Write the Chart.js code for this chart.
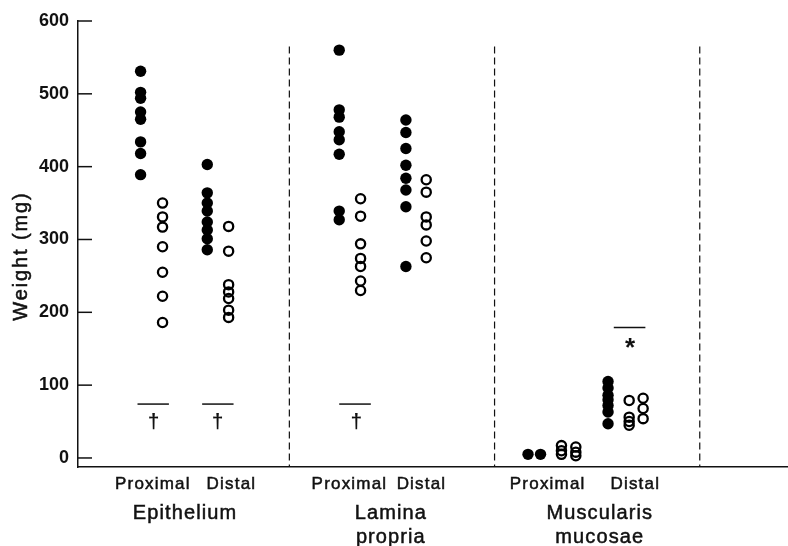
<!DOCTYPE html>
<html>
<head>
<meta charset="utf-8">
<script src="https://cdn.jsdelivr.net/npm/chart.js@4"></script>
<style>
  html, body { margin: 0; padding: 0; background: #fff; }
  #wrap { width: 788px; height: 546px; }
</style>
</head>
<body>
<div id="wrap"><canvas id="chart" width="788" height="546"></canvas></div>
<script>
// Weight (mg). Filled = one group, open = the other.
const epiProxFilled = [531, 502, 494, 475, 465, 434, 418, 389];
const epiProxOpen = [350, 331, 317, 290, 255, 222, 186];
const epiDistFilled = [403, 364, 350, 339, 324, 313, 301, 286];
const epiDistOpen = [318, 284, 238, 228, 219, 203, 193];
const lamProxFilled = [560, 478, 468, 448, 437, 417, 339, 327];
const lamProxOpen = [356, 332, 294, 274, 263, 243, 230];
const lamDistFilled = [464, 447, 425, 402, 384, 368, 345, 263];
const lamDistOpen = [382, 365, 331, 320, 298, 275];
const musProxFilledA = [5];
const musProxFilledB = [5];
const musProxOpenA = [17, 10, 5];
const musProxOpenB = [15, 8, 3];
const musDistFilled = [105, 96, 86, 80, 72, 63, 47];
const musDistOpenA = [79, 56, 50, 45];
const musDistOpenB = [82, 68, 54];

// column positions on the x scale (one unit = one tissue panel)
const filledX = [0.275, 0.600, 1.243, 1.568, 2.163, 2.224, 2.553];
const filledCols = [epiProxFilled, epiDistFilled, lamProxFilled, lamDistFilled,
                    musProxFilledA, musProxFilledB, musDistFilled];
const openX = [0.382, 0.704, 1.347, 1.667, 2.326, 2.396, 2.656, 2.724];
const openCols = [epiProxOpen, epiDistOpen, lamProxOpen, lamDistOpen,
                  musProxOpenA, musProxOpenB, musDistOpenA, musDistOpenB];

const yTicks = [0, 100, 200, 300, 400, 500, 600];
const dividerX = [1, 2, 3];
const dividerTop = 565;

const groupNames = [['Epithelium'], ['Lamina', 'propria'], ['Muscularis', 'mucosae']];
const groupX = [0.489, 1.492, 2.51];
const subNames = ['Proximal', 'Distal'];
const subX = [[0.332, 0.715], [1.29, 1.641], [2.256, 2.683]];

// significance bars
const sigStart = [0.26, 0.575, 1.243, 2.581];
const sigEnd = [0.413, 0.728, 1.397, 2.735];
const sigLevel = [74, 74, 74, 179];
const sigMark = ['\u2020', '\u2020', '\u2020', '*'];
const sigMarkX = [0.338, 0.650, 1.327, 2.660];
const sigMarkLevel = [51, 51, 51, 158];

const FONT = "'Liberation Sans', Arial, Helvetica, sans-serif";
const INK = '#111';

function toPoints(xs, cols) {
  const pts = [];
  cols.forEach((col, i) => col.forEach(v => pts.push({ x: xs[i], y: v })));
  return pts;
}

// print-like text: filled then lightly stroked so it reads as heavy as the scan
function spacedText(ctx, text, x, y, spacing) {
  ctx.letterSpacing = spacing + 'px';
  ctx.fillText(text, x + spacing / 2, y);
  ctx.strokeText(text, x + spacing / 2, y);
  ctx.letterSpacing = '0px';
}

const overlay = {
  id: 'overlay',
  afterDraw(chart) {
    const { ctx, chartArea, scales: { x, y } } = chart;
    ctx.save();
    ctx.strokeStyle = INK;
    ctx.fillStyle = INK;

    // inward tick marks on the y axis
    ctx.lineWidth = 1.5;
    yTicks.forEach(v => {
      const py = y.getPixelForValue(v);
      ctx.beginPath();
      ctx.moveTo(chartArea.left, py);
      ctx.lineTo(chartArea.left + 14, py);
      ctx.stroke();
    });

    // dashed panel dividers
    ctx.lineWidth = 1.2;
    ctx.setLineDash([7, 4]);
    dividerX.forEach(v => {
      const px = x.getPixelForValue(v);
      ctx.beginPath();
      ctx.moveTo(px, y.getPixelForValue(dividerTop));
      ctx.lineTo(px, chartArea.bottom);
      ctx.stroke();
    });
    ctx.setLineDash([]);

    // significance bars and marks
    ctx.lineWidth = 1.5;
    ctx.textAlign = 'center';
    ctx.textBaseline = 'middle';
    sigStart.forEach((s, i) => {
      const py = y.getPixelForValue(sigLevel[i]);
      ctx.beginPath();
      ctx.moveTo(x.getPixelForValue(s), py);
      ctx.lineTo(x.getPixelForValue(sigEnd[i]), py);
      ctx.stroke();
      const mark = sigMark[i];
      ctx.font = mark === '*' ? `bold 26px ${FONT}` : `bold 21px ${FONT}`;
      const dy = mark === '*' ? 6 : 1;
      ctx.fillText(mark, x.getPixelForValue(sigMarkX[i]), y.getPixelForValue(sigMarkLevel[i]) + dy);
    });

    // category labels under the axis
    const base = chartArea.bottom;
    ctx.lineWidth = 0.5;
    ctx.font = `17px ${FONT}`;
    subX.forEach(pair => pair.forEach((v, j) => {
      spacedText(ctx, subNames[j], x.getPixelForValue(v), base + 17.5, 1.2);
    }));
    ctx.font = `20px ${FONT}`;
    groupNames.forEach((lines, i) => lines.forEach((t, k) => {
      spacedText(ctx, t, x.getPixelForValue(groupX[i]), base + 46.5 + k * 23.5, 1.1);
    }));

    // y axis title
    ctx.translate(21, (chartArea.top + chartArea.bottom) / 2 + 13);
    ctx.rotate(-Math.PI / 2);
    ctx.font = `20px ${FONT}`;
    spacedText(ctx, 'Weight (mg)', 0, 0, 1.9);
    ctx.restore();
  }
};

new Chart(document.getElementById('chart'), {
  type: 'scatter',
  data: {
    datasets: [
      {
        label: 'Filled',
        data: toPoints(filledX, filledCols),
        pointStyle: 'circle',
        pointRadius: 5.7,
        pointBorderWidth: 0,
        backgroundColor: '#000',
        borderColor: '#000'
      },
      {
        label: 'Open',
        data: toPoints(openX, openCols),
        pointStyle: 'circle',
        pointRadius: 4.6,
        pointBorderWidth: 2.3,
        backgroundColor: 'rgba(0,0,0,0)',
        borderColor: '#000'
      }
    ]
  },
  options: {
    responsive: false,
    animation: false,
    events: [],
    devicePixelRatio: 1,
    layout: { autoPadding: false, padding: { top: 21, left: 0, right: 0, bottom: 0 } },
    plugins: { legend: { display: false }, tooltip: { enabled: false } },
    scales: {
      x: {
        type: 'linear',
        min: -0.03,
        max: 3.43,
        grid: { display: false },
        ticks: { display: false },
        border: { display: true, color: INK, width: 1.5 },
        afterFit: s => { s.height = 79; }
      },
      y: {
        type: 'linear',
        min: -12.4,
        max: 600,
        afterBuildTicks: s => { s.ticks = yTicks.map(v => ({ value: v })); },
        grid: { display: false, drawTicks: false },
        border: { display: true, color: INK, width: 1.5 },
        ticks: {
          padding: 9,
          color: INK,
          font: { family: FONT, size: 18, weight: 'bold' }
        },
        afterFit: s => { s.width = 78; }
      }
    }
  },
  plugins: [overlay]
});
</script>
</body>
</html>
